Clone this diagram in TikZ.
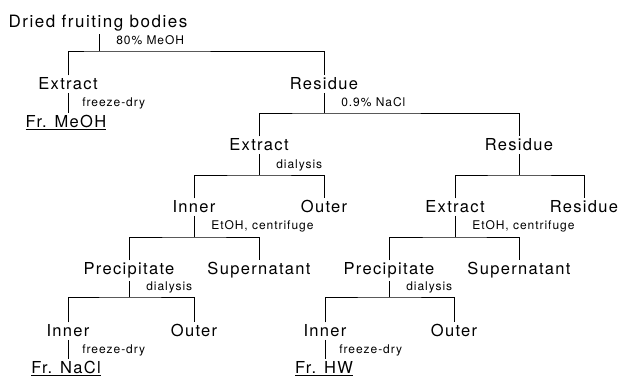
\documentclass[tikz,border=0pt]{standalone}
\usepackage{fontspec}
\setmainfont{TeX Gyre Heros}
\newfontfamily\stagefont[LetterSpace=8]{TeX Gyre Heros}
\newfontfamily\startfont[LetterSpace=9]{TeX Gyre Heros}
\usetikzlibrary{calc}

\begin{document}
\begin{tikzpicture}[x=1pt, y=-1pt]

    % TikZ styles for drawing %%%%%%%%%%%%%%%%%%%%%%%%%%%%%%%%%%%%%%%%%%%%%%%%%%%%%%
    \tikzstyle{stage} = [inner sep=2.5pt, anchor=base, font=\stagefont\fontsize{16.5}{18}\selectfont]
    \tikzstyle{start} = [stage, font=\startfont\fontsize{17}{19}\selectfont]
    \tikzstyle{cond} = [inner sep=0pt, anchor=base west, font=\stagefont\fontsize{12}{13}\selectfont]
    \tikzstyle{barlabel} = [cond, xshift=17pt, yshift=6pt]
    \tikzstyle{line} = [line width=0.6pt]

    \useasboundingbox (0,0) rectangle (622,379);

    % Stages, row by row %%%%%%%%%%%%%%%%%%%%%%%%%%%%%%%%%%%%%%%%%%%%%%%%%%%%%%%%%%%%%%%%
    \node[start] (dried) at (98,28) {Dried fruiting bodies};

    \node[stage] (ext1) at (68,90)  {Extract};
    \node[stage] (res1) at (324,90) {Residue};
    \node[stage] (frm)  at (66,128) {\underline{Fr. MeOH}};

    \node[stage] (ext2) at (259,151) {Extract};
    \node[stage] (res2) at (519,151) {Residue};

    \node[stage] (inn1) at (194,213) {Inner};
    \node[stage] (out1) at (324,213) {Outer};
    \node[stage] (ext3) at (455,213) {Extract};
    \node[stage] (res3) at (584,213) {Residue};

    \node[stage] (pre1) at (129,275) {Precipitate};
    \node[stage] (sup1) at (259,275) {Supernatant};
    \node[stage] (pre2) at (389,275) {Precipitate};
    \node[stage] (sup2) at (519,275) {Supernatant};

    \node[stage] (inn2) at (68,337)  {Inner};
    \node[stage] (out2) at (194,337) {Outer};
    \node[stage] (inn3) at (325,337) {Inner};
    \node[stage] (out3) at (454,337) {Outer};

    \node[stage] (frn) at (66,374)  {\underline{Fr. NaCl}};
    \node[stage] (frh) at (324,374) {\underline{Fr. HW}};

    % Branch points %%%%%%%%%%%%%%%%%%%%%%%%%%%%%%%%%%%%%%%%%%%%%%%%%%%%%%%%%%%%%%%%%%%%
    \coordinate (b1) at (99,51);
    \coordinate (b2) at (324,113);
    \coordinate (b3) at (259,175);
    \coordinate (b4) at (519,175);
    \coordinate (b5) at (194,237);
    \coordinate (b6) at (455,237);
    \coordinate (b7) at (129,297);
    \coordinate (b8) at (389,297);

    % Now link the stages %%%%%%%%%%%%%%%%%%%%%%%%%%%%%%%%%%%%%%%%%%%%%%%%%%%%%%%%%%%%%%
    \draw [line] (dried.south -| b1) -- (b1) node[barlabel] {80\% MeOH};
    \draw [line] (ext1.north) |- (b1) -| (res1.north);

    \draw [line] (ext1.south) -- node[cond, xshift=14pt, yshift=-4pt] {freeze-dry} (ext1.south |- frm.north);

    \draw [line] (res1.south) -- (b2) node[barlabel] {0.9\% NaCl};
    \draw [line] (ext2.north) |- (b2) -| (res2.north);

    \draw [line] (ext2.south) -- (b3) node[barlabel] {dialysis};
    \draw [line] (inn1.north) |- (b3) -| (out1.north);

    \draw [line] (res2.south) -- (b4);
    \draw [line] (ext3.north) |- (b4) -| (res3.north);

    \draw [line] (inn1.south) -- (b5) node[barlabel, yshift=1pt] {EtOH, centrifuge};
    \draw [line] (pre1.north) |- (b5) -| (sup1.north);

    \draw [line] (ext3.south) -- (b6) node[barlabel, yshift=1pt] {EtOH, centrifuge};
    \draw [line] (pre2.north) |- (b6) -| (sup2.north);

    \draw [line] (pre1.south) -- (b7) node[barlabel] {dialysis};
    \draw [line] (inn2.north) |- (b7) -| (out2.north);

    \draw [line] (pre2.south) -- (b8) node[barlabel] {dialysis};
    \draw [line] (inn3.north) |- (b8) -| (out3.north);

    \draw [line] (inn2.south) -- node[cond, xshift=14pt, yshift=-4pt] {freeze-dry} (inn2.south |- frn.north);
    \draw [line] (inn3.south) -- node[cond, xshift=14pt, yshift=-4pt] {freeze-dry} (inn3.south |- frh.north);

\end{tikzpicture}
\end{document}
